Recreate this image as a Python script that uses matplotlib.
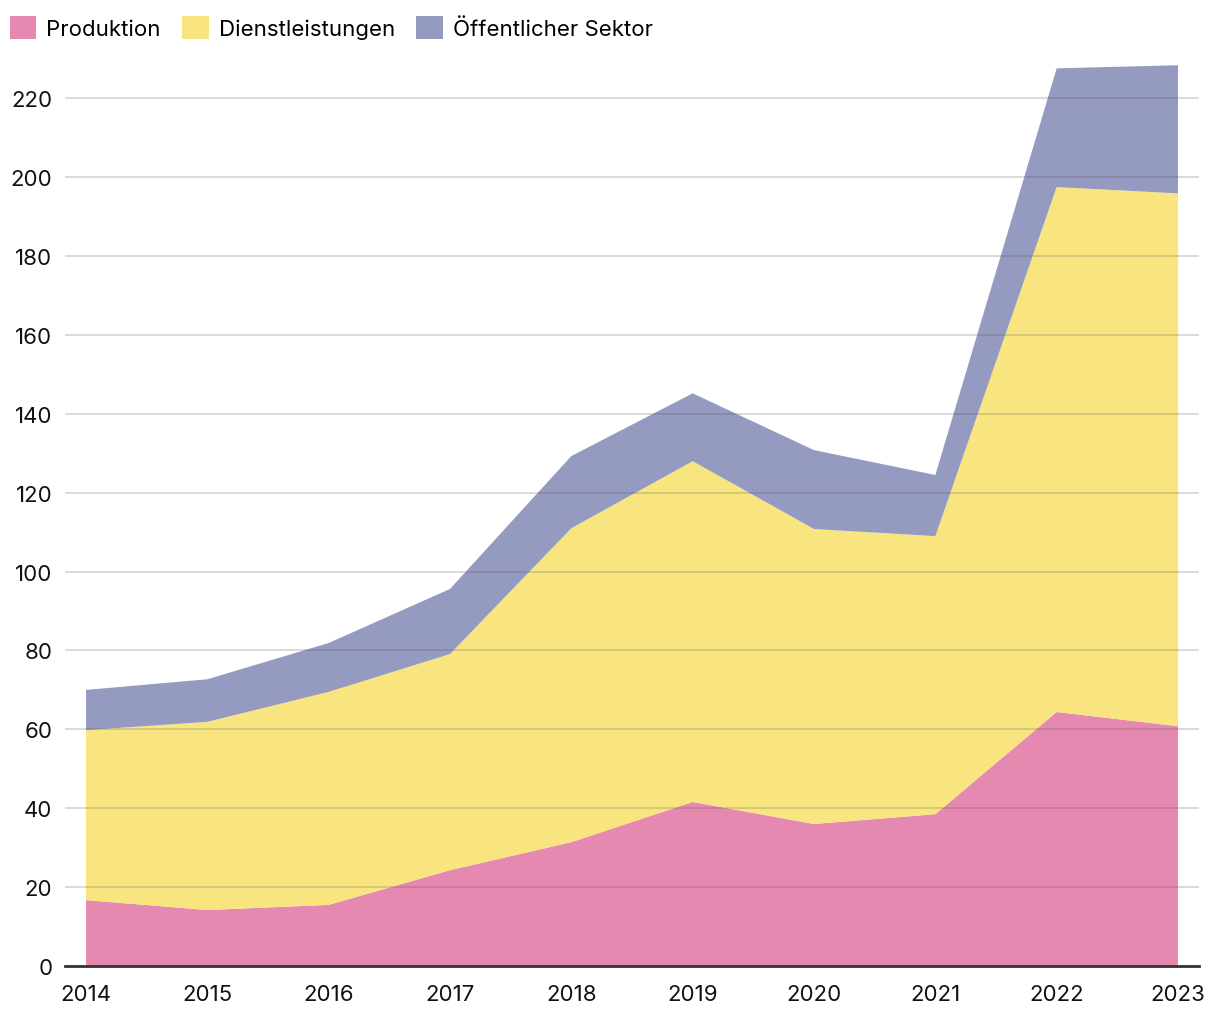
import matplotlib.pyplot as plt
import numpy as np

# Jahre und Werte je Sektor (gestapelt)
years = [2014, 2015, 2016, 2017, 2018, 2019, 2020, 2021, 2022, 2023]
produktion = [16.7, 14.2, 15.5, 24.3, 31.4, 41.6, 36.0, 38.5, 64.4, 60.8]
dienstleistungen = [43.1, 47.7, 54.0, 54.8, 79.6, 86.4, 74.8, 70.5, 133.1, 135.1]
oeffentlich = [10.2, 10.8, 12.4, 16.5, 18.3, 17.2, 20.0, 15.5, 30.1, 32.5]

labels = ['Produktion', 'Dienstleistungen', 'Öffentlicher Sektor']
colors = ['#e589b0', '#f8e57f', '#959ac0']

plt.rcParams['font.family'] = ['Inter', 'DejaVu Sans']

fig = plt.figure(figsize=(12.2, 10.2), dpi=100)
ax = fig.add_axes([65 / 1220, 1 - 967 / 1020, (1199 - 65) / 1220, (967 - 52) / 1020])

ax.stackplot(years, produktion, dienstleistungen, oeffentlich,
             colors=colors, labels=labels, linewidth=0, zorder=1)

ax.set_xlim(2014 - 0.173, 2023 + 0.173)
ax.set_ylim(0, 232)
ax.set_xticks(years)
ax.set_yticks(np.arange(0, 221, 20))

# grid lies over the areas
ax.grid(axis='y', color='#555555', alpha=0.25, linewidth=1.2, zorder=2)
ax.set_axisbelow(False)
ax.grid(axis='x', visible=False)

for side in ['top', 'right', 'left']:
    ax.spines[side].set_visible(False)
ax.spines['bottom'].set_color('#333333')
ax.spines['bottom'].set_linewidth(2)
ax.spines['bottom'].set_zorder(3)

ax.tick_params(axis='both', length=0, labelsize=16, colors='#111111')
ax.tick_params(axis='x', pad=13)
ax.tick_params(axis='y', pad=9)

leg = fig.legend(loc='upper left', bbox_to_anchor=(-0.003, 0.996), ncol=3, frameon=False,
                 fontsize=16, handlelength=1.2, handleheight=1.2, handletextpad=0.45,
                 columnspacing=0.95, borderaxespad=0.3, borderpad=0.3)

fig.savefig('out.png', dpi=100)
